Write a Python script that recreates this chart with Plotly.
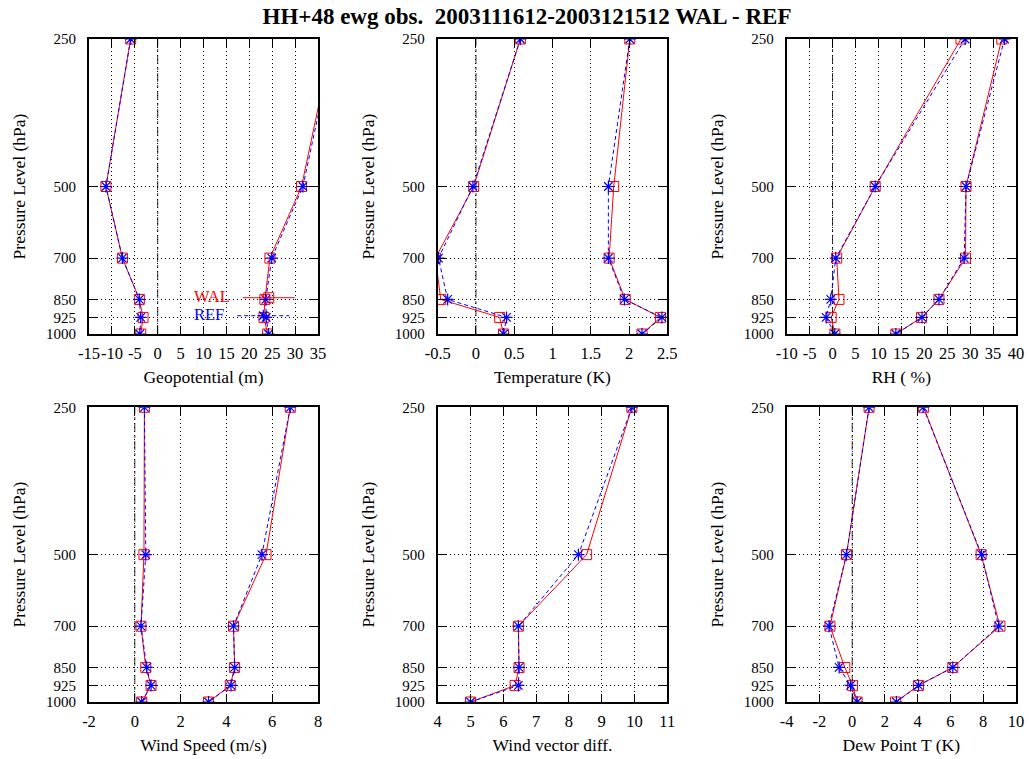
import math
import plotly.graph_objects as go

# ---------------- data ----------------
levels = [250, 500, 700, 850, 925, 1000]

geo_bias_wal = [-5.9, -11.3, -7.7, -4.0, -3.2, -3.7]
geo_bias_ref = [-5.9, -11.3, -7.7, -4.0, -3.7, -3.9]
geo_rms_wal = [38.2, 31.4, 24.5, 23.4, 23.2, 24.0]
geo_rms_ref = [38.6, 31.7, 24.9, 23.6, 23.7, 24.2]

t_bias_wal = [0.58, -0.03, -0.53, -0.46, 0.31, 0.36]
t_bias_ref = [0.58, -0.04, -0.49, -0.37, 0.40, 0.36]
t_rms_wal = [2.01, 1.80, 1.74, 1.95, 2.41, 2.17]
t_rms_ref = [2.01, 1.73, 1.73, 1.94, 2.43, 2.17]

rh_bias_wal = [28.0, 9.3, 0.9, 1.4, -0.3, 0.5]
rh_bias_ref = [28.9, 9.3, 0.7, -0.4, -1.4, 0.5]
rh_rms_wal = [36.9, 29.1, 29.0, 23.2, 19.4, 13.8]
rh_rms_ref = [37.5, 29.1, 28.7, 23.2, 19.5, 13.8]

ws_bias_wal = [0.42, 0.40, 0.27, 0.48, 0.71, 0.30]
ws_bias_ref = [0.42, 0.48, 0.27, 0.52, 0.71, 0.30]
ws_rms_wal = [6.79, 5.73, 4.31, 4.36, 4.17, 3.22]
ws_rms_ref = [6.79, 5.55, 4.31, 4.36, 4.20, 3.22]

wv_wal = [9.92, 8.54, 6.46, 6.48, 6.36, 5.0]
wv_ref = [9.92, 8.29, 6.46, 6.48, 6.46, 5.0]

td_bias_wal = [1.03, -0.35, -1.36, -0.45, 0.02, 0.30]
td_bias_ref = [1.03, -0.35, -1.42, -0.80, -0.10, 0.30]
td_rms_wal = [4.36, 7.87, 9.02, 6.14, 4.05, 2.65]
td_rms_ref = [4.33, 7.90, 8.94, 6.14, 4.05, 2.70]

x_titles = ["Geopotential (m)", "Temperature (K)", "RH ( %)",
            "Wind Speed (m/s)", "Wind vector diff.", "Dew Point T (K)"]
x_ticks = [
    [-15, -10, -5, 0, 5, 10, 15, 20, 25, 30, 35],
    [-0.5, 0, 0.5, 1, 1.5, 2, 2.5],
    [-10, -5, 0, 5, 10, 15, 20, 25, 30, 35, 40],
    [-2, 0, 2, 4, 6, 8],
    [4, 5, 6, 7, 8, 9, 10, 11],
    [-4, -2, 0, 2, 4, 6, 8, 10],
]
title_text = "HH+48 ewg obs.  2003111612-2003121512 WAL - REF"
y_title = "Pressure Level (hPa)"

panels = [
    [(geo_bias_wal, geo_bias_ref), (geo_rms_wal, geo_rms_ref)],
    [(t_bias_wal, t_bias_ref), (t_rms_wal, t_rms_ref)],
    [(rh_bias_wal, rh_bias_ref), (rh_rms_wal, rh_rms_ref)],
    [(ws_bias_wal, ws_bias_ref), (ws_rms_wal, ws_rms_ref)],
    [(wv_wal, wv_ref)],
    [(td_bias_wal, td_bias_ref), (td_rms_wal, td_rms_ref)],
]

# ---------------- layout ----------------
W, H = 1029, 759
FONT = "Liberation Serif"
XTICK_SIZE = 16.5
YTICK_SIZE = 15
TITLE_SIZE = 17.5
x_dom_px = [(89, 318), (437.7, 667.3), (786.7, 1016)]
y_dom_px = [(39, 334), (407.3, 702)]

RED = "#ff0000"
BLUE = "#0000ff"

fig = go.Figure()

for i, series in enumerate(panels):
    ax = "" if i == 0 else str(i + 1)
    xref, yref = "x" + ax, "y" + ax
    for j, (wal, ref) in enumerate(series):
        show = (i == 0 and j == 1)
        fig.add_trace(go.Scatter(
            x=wal, y=levels, xaxis=xref, yaxis=yref, mode="lines+markers",
            name="WAL", legend="legend",
            line=dict(color=RED, width=1),
            marker=dict(symbol="square-open", size=10, color=RED, line=dict(width=1, color=RED)),
            showlegend=show,
        ))
        fig.add_trace(go.Scatter(
            x=ref, y=levels, xaxis=xref, yaxis=yref, mode="lines+markers",
            name="REF", legend="legend2",
            line=dict(color=BLUE, width=1, dash="4px,3px"),
            marker=dict(symbol="asterisk-open", size=10, color=BLUE, line=dict(width=1.2, color=BLUE)),
            showlegend=show,
        ))

    r, c = divmod(i, 3)
    xd = x_dom_px[c]
    yd = y_dom_px[r]
    ticks = x_ticks[i]
    common = dict(
        showline=True, linecolor="black", linewidth=2, mirror="ticks",
        ticks="inside", ticklen=8, tickwidth=1, tickcolor="black",
        showgrid=True, gridcolor="black", gridwidth=1, griddash="1px,3px",
        zeroline=False, automargin=False, tickangle=0,
    )
    fig.layout["xaxis" + ax] = dict(
        common,
        domain=[xd[0] / W, xd[1] / W],
        anchor=yref,
        range=[ticks[0], ticks[-1]],
        tickvals=ticks, ticktext=[f"{v:g}" for v in ticks],
        tickfont=dict(family=FONT, size=XTICK_SIZE, color="black"),
        ticklabelstandoff=3,
        title=dict(text=x_titles[i], font=dict(family=FONT, size=TITLE_SIZE, color="black"), standoff=9),
    )
    fig.layout["yaxis" + ax] = dict(
        common,
        domain=[1 - yd[1] / H, 1 - yd[0] / H],
        anchor=xref,
        type="log",
        range=[math.log10(levels[-1]), math.log10(levels[0])],
        tickvals=levels, ticktext=[str(v) for v in levels],
        tickfont=dict(family=FONT, size=YTICK_SIZE, color="black"),
        ticklabelstandoff=8,
        title=dict(text=y_title, font=dict(family=FONT, size=TITLE_SIZE, color="black"), standoff=16),
    )
    if ticks[0] < 0 < ticks[-1]:
        fig.add_shape(type="line", xref=xref, yref=yref + " domain",
                      x0=0, x1=0, y0=0, y1=1,
                      line=dict(color="#333333", width=1, dash="dashdot"), layer="below")

legend_common = dict(
    xanchor="left", yanchor="middle",
    bgcolor="rgba(0,0,0,0)", itemwidth=52,
    font=dict(family=FONT, size=XTICK_SIZE, color="rgba(0,0,0,0)"),
)

fig.update_layout(
    width=W, height=H,
    template="none",
    margin=dict(l=0, r=0, t=0, b=0),
    paper_bgcolor="white", plot_bgcolor="white",
    font=dict(family=FONT, size=XTICK_SIZE, color="black"),
    title=dict(text="<b>" + title_text + "</b>", x=527 / W, xanchor="center",
               y=1 - 16 / H, yanchor="middle", font=dict(family=FONT, size=23, color="black")),
    legend=dict(legend_common, x=192 / W, y=1 - 298 / H,
                title=dict(text="WAL", side="left", font=dict(family=FONT, size=XTICK_SIZE, color=RED))),
    legend2=dict(legend_common, x=192 / W, y=1 - 316 / H,
                 title=dict(text="REF", side="left", font=dict(family=FONT, size=XTICK_SIZE, color=BLUE))),
)

fig.write_html("out.html")
